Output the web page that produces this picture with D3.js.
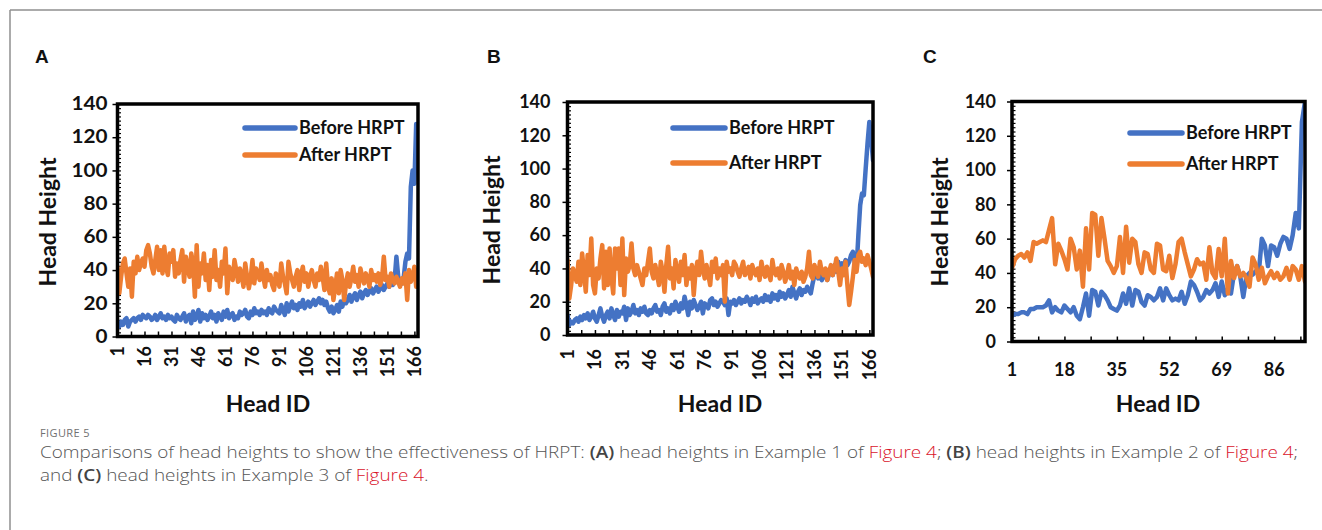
<!DOCTYPE html>
<html><head><meta charset="utf-8">
<script src="https://cdn.jsdelivr.net/npm/d3@7"></script>
<style>body{margin:0;background:#fff;} svg{display:block;}</style>
</head><body>
<svg id="c" width="1322" height="530"></svg>
<script>
// ---------- data ----------
const beforeA = [
 8,6,9,7,10,11,6,9,10,11, 9,11,12,10,13,12,11,13,12,10,
 11,13,10,12,14,11,12,10,13,11, 12,10,9,13,11,10,12,14,9,12,
 13,8,15,10,12,16,9,14,11,13, 10,12,15,11,13,9,14,12,10,15,
 12,16,11,13,14,10,12,11,15,13, 14,16,12,11,15,13,17,14,15,13,
 16,14,15,13,17,15,14,18,16,15, 14,19,16,13,20,15,18,21,17,19,
 16,20,18,22,17,19,21,18,20,22, 19,21,23,20,22,19,21,17,15,18,
 14,16,19,15,21,18,23,20,22,25, 21,24,26,22,25,27,23,26,28,25,
 27,29,26,28,30,27,29,31,28,30, 32,30,33,31,34,48,36,33,32,35,
 45,50,47,90,100,92,128,100];
const afterA = [
 42,26,36,44,47,38,30,41,24,45, 38,48,40,44,47,42,52,55,50,42,
 38,46,54,40,52,38,54,42,37,50, 45,52,36,44,38,46,52,33,48,42,
 36,50,44,24,55,30,44,38,50,34, 43,28,46,36,52,34,40,30,45,38,
 53,26,42,38,34,46,40,33,41,37, 30,44,36,29,35,46,32,41,38,34,
 44,36,30,40,34,37,31,28,38,34, 30,44,36,32,26,45,38,34,30,36,
 40,28,37,42,33,38,30,36,40,34, 30,38,34,42,36,28,44,30,26,35,
 22,30,38,26,40,34,22,32,38,30, 35,42,33,37,30,41,36,32,38,35,
 30,40,34,37,33,38,31,35,48,34, 36,30,38,34,32,36,33,30,35,32,
 38,22,40,33,36,42,30,40];
const beforeB = [
 12,6,8,7,9,10,8,11,9,12, 10,13,9,11,14,10,8,12,16,11,
 8,12,14,10,16,12,9,15,11,14, 13,17,9,16,12,14,18,13,15,12,
 16,14,17,13,12,15,13,16,18,14, 15,12,17,19,14,16,13,18,15,20,
 17,14,19,16,23,18,12,20,16,21, 18,15,17,20,13,19,18,16,21,22,
 18,20,17,19,21,20,18,22,12,20, 19,21,18,20,22,19,21,20,23,21,
 18,22,20,23,19,21,22,20,24,21, 23,20,25,22,24,21,26,23,25,22,
 24,27,23,29,25,22,26,28,24,27, 26,29,27,25,31,36,38,34,36,33,
 35,38,33,37,40,36,42,38,44,40, 43,41,45,42,44,48,50,44,40,60,
 78,85,84,100,115,128,118,105];
const afterB = [
 45,22,30,40,36,32,44,30,49,38, 26,48,36,58,30,25,40,34,46,54,
 28,50,30,52,35,25,52,40,52,30, 58,24,46,38,42,55,40,36,42,38,
 34,30,40,36,44,52,38,34,42,36, 30,44,38,26,42,53,34,40,28,45,
 38,32,44,36,48,30,40,34,42,24, 38,44,36,50,40,34,42,36,30,44,
 38,46,34,40,36,42,20,44,38,40, 36,44,42,38,35,40,44,36,38,41,
 34,42,38,36,40,33,44,38,35,41, 37,33,45,38,36,40,34,42,38,32,
 36,42,34,38,30,40,36,34,38,32, 35,40,50,36,34,42,38,35,44,38,
 36,40,33,38,42,36,40,46,38,30, 40,36,44,30,18,26,35,45,38,48,
 50,44,46,42,48,44,40,35];
const beforeC = [
 15,16,16,17,17,16,19,19,20,20, 20,21,24,17,20,18,17,21,19,17,
 20,15,13,20,28,15,30,29,21,29, 27,24,20,19,18,21,28,22,31,21,
 30,29,23,21,27,26,24,26,31,24, 31,27,24,25,24,29,22,27,35,33,
 29,24,26,30,28,30,34,26,35,27, 31,28,40,44,38,26,38,40,39,41,
 40,60,56,44,56,55,50,57,61,60, 54,62,75,66,128,140];
const afterC = [
 43,48,50,51,49,52,47,58,57,58, 59,58,65,72,45,57,53,48,42,60,
 55,42,53,32,66,42,75,74,50,72, 60,47,44,40,44,61,40,67,46,60,
 58,45,40,52,51,42,40,57,56,42, 41,50,37,45,58,60,52,45,38,42,
 48,45,46,36,55,40,37,54,38,60, 28,47,37,44,38,40,37,32,49,45,
 36,43,34,38,41,37,40,36,38,43, 36,44,42,36,44,35];

const xTickLabelsAB = [1,16,31,46,61,76,91,106,121,136,151,166];
const xTickLabelsC = [1,18,35,52,69,86];
const yTickValues = [0,20,40,60,80,100,120,140];
const seriesNames = ["Before HRPT","After HRPT"];
const panelLetters = ["A","B","C"];

// ---------- layout ----------
const BLUE = "#4472C4", ORANGE = "#ED7D31";
const FONT = "Lato, 'Open Sans', sans-serif";
const svg = d3.select("#c");

function stretch(sel, k){
  sel.each(function(){
    const w = this.getComputedTextLength();
    d3.select(this).attr("textLength", w*k).attr("lengthAdjust","spacingAndGlyphs");
  });
}

// page frame
svg.append("line").attr("x1",10).attr("y1",10).attr("x2",1322).attr("y2",10).attr("stroke","#8f8f8f").attr("stroke-width",1.5);
svg.append("line").attr("x1",10).attr("y1",10).attr("x2",10).attr("y2",530).attr("stroke","#8f8f8f").attr("stroke-width",1.5);

const panels = [
 {letter:panelLetters[0], before:beforeA, after:afterA, ticks:xTickLabelsAB, step:7.5, rot:true,
  L:117.5, R:418, T:104, B:336.5, letterX:35, yTitleX:48, yTitleY:222, xTitleX:268, xLabY:346,
  legX1:245, legX2:295, legY:[128,155], yPad:5, k:1.15},
 {letter:panelLetters[1], before:beforeB, after:afterB, ticks:xTickLabelsAB, step:7.5, rot:true,
  L:567.5, R:873, T:102, B:335, letterX:487, yTitleX:492, yTitleY:220, xTitleX:720, xLabY:349,
  legX1:673, legX2:725, legY:[128,163], yPad:12, k:1.0},
 {letter:panelLetters[2], before:beforeC, after:afterC, ticks:xTickLabelsC, step:8.5, rot:false,
  L:1012, R:1305, T:101.5, B:341.5, letterX:923, yTitleX:940, yTitleY:222, xTitleX:1158, xLabY:376,
  legX1:1130, legX2:1182, legY:[133,164], yPad:11, k:1.0}
];

panels.forEach(p => {
  const n = p.before.length;
  const x = d3.scaleLinear().domain([1, n]).range([p.L, p.R]);
  const y = d3.scaleLinear().domain([0, 140]).range([p.B, p.T]);
  const g = svg.append("g");

  // panel letter
  g.append("text").attr("x",p.letterX).attr("y",63).text(p.letter)
    .attr("font-family","'Liberation Sans', Arial, sans-serif").attr("font-weight","bold").attr("font-size",19).attr("fill","#111");

  // y axis major ticks + labels
  const ya = g.append("g").attr("transform",`translate(${p.L},0)`)
    .call(d3.axisLeft(y).tickValues(yTickValues).tickSize(5).tickPadding(p.yPad));
  ya.select(".domain").remove();
  ya.selectAll("line").attr("stroke","#000").attr("stroke-width",1.5);
  ya.selectAll("text").attr("font-family",FONT).attr("font-weight","bold").attr("font-size",18).attr("fill","#111");
  stretch(ya.selectAll("text"), p.k);

  // y minor ticks (inside)
  const ym = g.append("g").attr("transform",`translate(${p.L},0)`)
    .call(d3.axisRight(y).tickValues(d3.range(0,141,2.5)).tickSize(3.5).tickFormat(""));
  ym.select(".domain").remove();
  ym.selectAll("line").attr("stroke","#000").attr("stroke-width",1.2);

  // x axis ticks (inside)
  const xt = [];
  for (let v = 1; v <= n; v += p.step) xt.push(v);
  const xa = g.append("g").attr("transform",`translate(0,${p.B})`)
    .call(d3.axisTop(x).tickValues(xt).tickSize(5).tickFormat(""));
  xa.select(".domain").remove();
  xa.selectAll("line").attr("stroke","#000").attr("stroke-width",1.5);

  // x labels
  const xl = g.append("g");
  p.ticks.forEach(t => {
    const tx = xl.append("text").text(t)
      .attr("font-family",FONT).attr("font-weight","bold").attr("font-size",18).attr("fill","#111");
    if (p.rot) {
      tx.attr("transform",`translate(${x(t)},${p.xLabY}) rotate(-90)`)
        .attr("text-anchor","end").attr("dy","0.35em");
    } else {
      tx.attr("x",x(t)).attr("y",p.xLabY).attr("text-anchor","middle");
    }
  });

  // lines
  const line = d3.line().x((d,i)=>x(i+1)).y(d=>y(d));
  const clipId = "clip"+p.letter;
  g.append("clipPath").attr("id",clipId).append("rect")
    .attr("x",p.L).attr("y",p.T).attr("width",p.R-p.L).attr("height",p.B-p.T);
  [[p.before,BLUE],[p.after,ORANGE]].forEach(([d,c]) => {
    g.append("path").datum(d).attr("d",line).attr("fill","none")
      .attr("stroke",c).attr("stroke-width",4.5).attr("stroke-linejoin","round").attr("stroke-linecap","round")
      .attr("clip-path",`url(#${clipId})`);
  });

  // frame
  g.append("rect").attr("x",p.L).attr("y",p.T).attr("width",p.R-p.L).attr("height",p.B-p.T)
    .attr("fill","none").attr("stroke","#000").attr("stroke-width",3.5);

  // legend
  [BLUE,ORANGE].forEach((c,i) => {
    g.append("line").attr("x1",p.legX1).attr("x2",p.legX2).attr("y1",p.legY[i]).attr("y2",p.legY[i])
      .attr("stroke",c).attr("stroke-width",5.5).attr("stroke-linecap","round");
    g.append("text").attr("x",p.legX2+4).attr("y",p.legY[i]).attr("dy","0.35em").text(seriesNames[i])
      .attr("font-family",FONT).attr("font-weight","bold").attr("font-size",18).attr("fill","#111");
  });

  // axis titles
  g.append("text").attr("transform",`translate(${p.yTitleX},${p.yTitleY}) rotate(-90)`)
    .attr("text-anchor","middle").attr("dy","0.35em").text("Head Height")
    .attr("font-family",FONT).attr("font-weight","bold").attr("font-size",23).attr("fill","#111");
  g.append("text").attr("x",p.xTitleX).attr("y",412).attr("text-anchor","middle").text("Head ID")
    .attr("font-family",FONT).attr("font-weight","bold").attr("font-size",23).attr("fill","#111");
});

// ---------- caption ----------
const CAPF = "'Open Sans', 'Noto Sans', sans-serif";
svg.append("text").attr("x",40).attr("y",437).text("FIGURE 5")
  .attr("font-family",CAPF).attr("font-size",11).attr("fill","#707070").attr("letter-spacing",0.4);

const capLines = [
 [["Comparisons of head heights to show the effectiveness of HRPT: ",0],["(A)",1],[" head heights in Example 1 of ",0],["Figure 4",2],["; ",0],["(B)",1],[" head heights in Example 2 of ",0],["Figure 4",2],[";",0]],
 [["and ",0],["(C)",1],[" head heights in Example 3 of ",0],["Figure 4",2],[".",0]]
];
const capTexts = capLines.map((segs,li) => {
  const t = svg.append("text").attr("x",40).attr("y",458+li*23)
    .attr("font-family",CAPF).attr("font-weight",300).attr("font-size",15.5).attr("fill","#555");
  segs.forEach(([s,k]) => {
    const ts = t.append("tspan").text(s);
    if (k===1) ts.attr("font-weight",600).attr("fill","#444");
    if (k===2) ts.attr("fill","#d9142b");
  });
  return t;
});
const w0 = capTexts[0].node().getComputedTextLength();
const kc = 1258 / w0;
capTexts.forEach(t => {
  const w = t.node().getComputedTextLength();
  t.attr("textLength", w*kc).attr("lengthAdjust","spacingAndGlyphs");
});
</script>
</body></html>
